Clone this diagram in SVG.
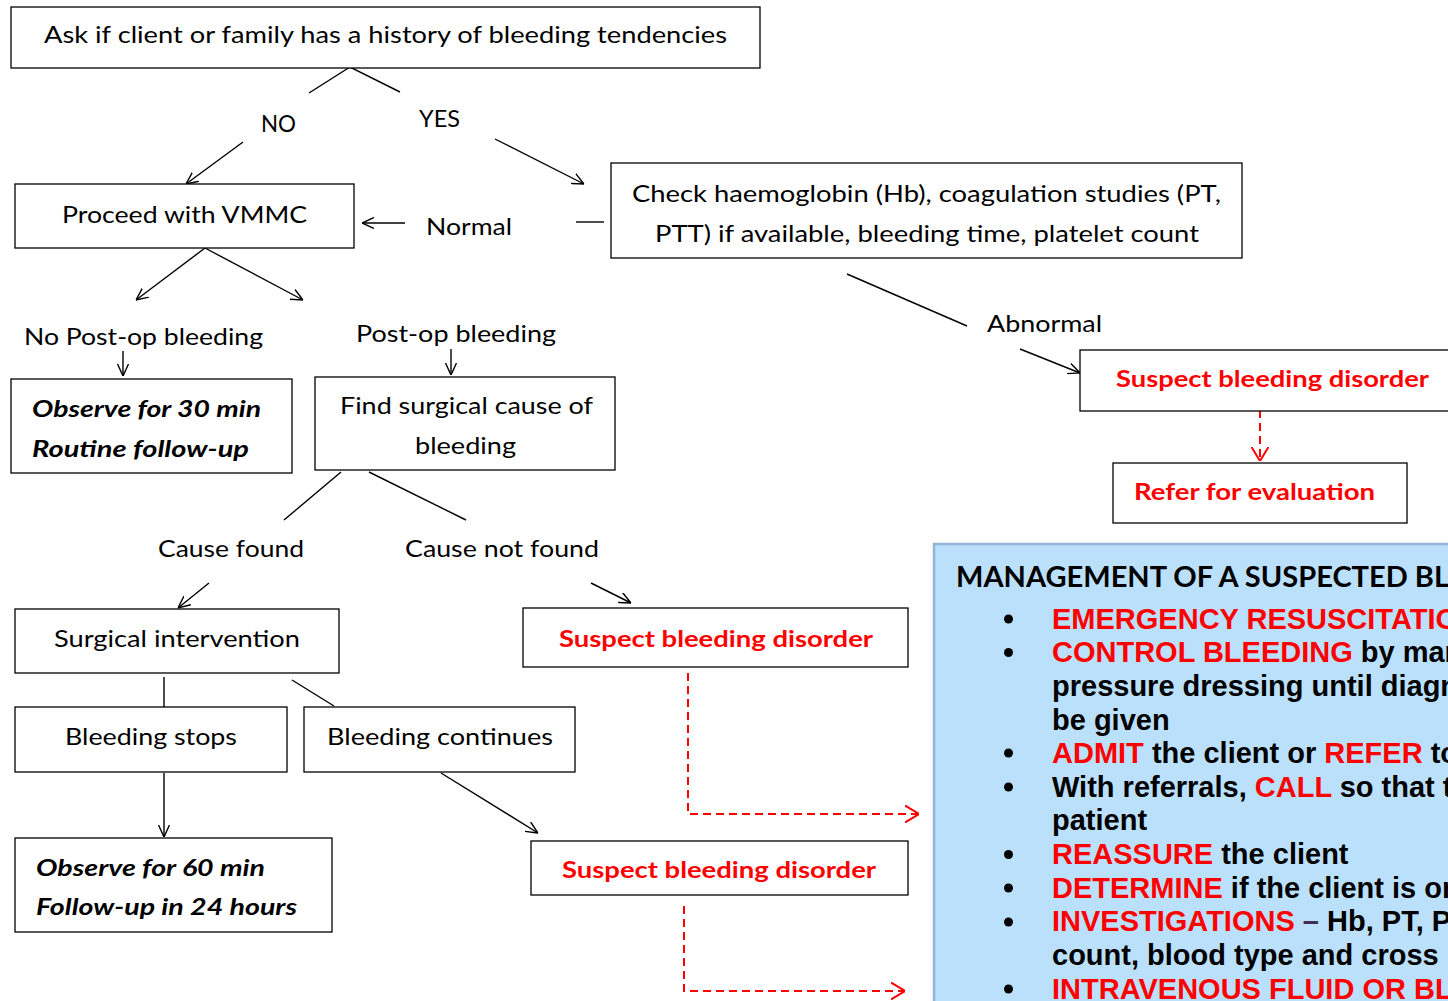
<svg xmlns="http://www.w3.org/2000/svg" width="1448" height="1001" viewBox="0 0 1448 1001">
<style>
.box{fill:#fff;stroke:#000;stroke-width:1.3}
.t{font-family:Lato,"Open Sans","Liberation Sans",sans-serif;font-size:22.5px;fill:#000}
.r{font-family:Lato,"Open Sans","Liberation Sans",sans-serif;font-size:22.5px;font-weight:bold;fill:#ff0000}
.bi{font-family:Lato,"Open Sans","Liberation Sans",sans-serif;font-size:22.5px;font-weight:bold;font-style:italic;fill:#000}
.ln{fill:none;stroke:#000;stroke-width:1.4}
.rd{fill:none;stroke:#ff0000;stroke-width:2;stroke-dasharray:8 5}
.m{font-family:"Liberation Sans",Arial,sans-serif;font-size:29px;font-weight:bold;fill:#000}
.red{fill:#ff0000}
</style>
<defs>
<marker id="ah" viewBox="0 0 12 12" refX="12" refY="6" markerWidth="12" markerHeight="12" markerUnits="userSpaceOnUse" orient="auto"><path d="M0,0.5 L12,6 L0,11.5" fill="none" stroke="#000" stroke-width="1.4"/></marker>
<marker id="ahr" viewBox="0 0 14 18" refX="14" refY="9" markerWidth="14" markerHeight="18" markerUnits="userSpaceOnUse" orient="auto"><path d="M0,0.5 L14,9 L0,17.5" fill="none" stroke="#ff0000" stroke-width="2"/></marker>
</defs>
<rect width="1448" height="1001" fill="#fff"/>

<g id="connectors">
<path class="ln" d="M309,93 L350,67 L400,92"/>
<path class="ln" d="M243,142 L186,184" marker-end="url(#ah)"/>
<path class="ln" d="M495,139 L584,184" marker-end="url(#ah)"/>
<path class="ln" d="M405,223 L362,223" marker-end="url(#ah)"/>
<path class="ln" d="M576,222 L604,222"/>
<path class="ln" d="M847,274 L967,326"/>
<path class="ln" d="M1020,349 L1080,373" marker-end="url(#ah)"/>
<path class="rd" d="M1260,410 L1260,461" marker-end="url(#ahr)"/>
<path class="ln" d="M205,248 L136,300" marker-end="url(#ah)"/>
<path class="ln" d="M205,248 L303,300" marker-end="url(#ah)"/>
<path class="ln" d="M123,351 L123,376" marker-end="url(#ah)"/>
<path class="ln" d="M451,349 L451,375" marker-end="url(#ah)"/>
<path class="ln" d="M341,472 L284,520"/>
<path class="ln" d="M369,472 L466,520"/>
<path class="ln" d="M209,583 L178,608" marker-end="url(#ah)"/>
<path class="ln" d="M591,583 L631,603" marker-end="url(#ah)"/>
<path class="ln" d="M164,677 L164,707"/>
<path class="ln" d="M292,680 L334,706"/>
<path class="ln" d="M164,773 L164,837" marker-end="url(#ah)"/>
<path class="ln" d="M441,773 L538,833" marker-end="url(#ah)"/>
<path class="rd" d="M688,673 L688,814 L919,814" marker-end="url(#ahr)"/>
<path class="rd" d="M684,906 L684,991 L905,991" marker-end="url(#ahr)"/>
</g>

<g id="n-ask">
<rect class="box" x="11" y="7" width="749" height="61"/>
<text class="t" x="44" y="43" textLength="683" lengthAdjust="spacingAndGlyphs">Ask if client or family has a history of bleeding tendencies</text>
</g>
<g id="l-no"><text class="t" x="261" y="132" textLength="35" lengthAdjust="spacingAndGlyphs">NO</text></g>
<g id="l-yes"><text class="t" x="419" y="127" textLength="41" lengthAdjust="spacingAndGlyphs">YES</text></g>
<g id="n-proceed">
<rect class="box" x="15" y="184" width="339" height="64"/>
<text class="t" x="62" y="223" textLength="245" lengthAdjust="spacingAndGlyphs">Proceed with VMMC</text>
</g>
<g id="l-normal"><text class="t" x="426" y="235" textLength="86" lengthAdjust="spacingAndGlyphs">Normal</text></g>
<g id="n-check">
<rect class="box" x="611" y="163" width="631" height="95"/>
<text class="t" x="632" y="202" textLength="589" lengthAdjust="spacingAndGlyphs">Check haemoglobin (Hb), coagulation studies (PT,</text>
<text class="t" x="655" y="242" textLength="544" lengthAdjust="spacingAndGlyphs">PTT) if available, bleeding time, platelet count</text>
</g>
<g id="l-abnormal"><text class="t" x="987" y="332" textLength="115" lengthAdjust="spacingAndGlyphs">Abnormal</text></g>
<g id="n-suspect1">
<rect class="box" x="1080" y="350" width="380" height="61"/>
<text class="r" x="1116" y="387" textLength="313" lengthAdjust="spacingAndGlyphs">Suspect bleeding disorder</text>
</g>
<g id="n-refer">
<rect class="box" x="1113" y="463" width="294" height="60"/>
<text class="r" x="1134" y="500" textLength="241" lengthAdjust="spacingAndGlyphs">Refer for evaluation</text>
</g>
<g id="l-nopostop"><text class="t" x="24" y="345" textLength="239" lengthAdjust="spacingAndGlyphs">No Post-op bleeding</text></g>
<g id="l-postop"><text class="t" x="356" y="342" textLength="200" lengthAdjust="spacingAndGlyphs">Post-op bleeding</text></g>
<g id="n-observe30">
<rect class="box" x="11" y="379" width="281" height="94"/>
<text class="bi" x="32" y="417" textLength="229" lengthAdjust="spacingAndGlyphs">Observe for 30 min</text>
<text class="bi" x="32" y="457" textLength="217" lengthAdjust="spacingAndGlyphs">Routine follow-up</text>
</g>
<g id="n-find">
<rect class="box" x="315" y="377" width="300" height="93"/>
<text class="t" x="340" y="414" textLength="253" lengthAdjust="spacingAndGlyphs">Find surgical cause of</text>
<text class="t" x="415" y="454" textLength="101" lengthAdjust="spacingAndGlyphs">bleeding</text>
</g>
<g id="l-causefound"><text class="t" x="158" y="557" textLength="146" lengthAdjust="spacingAndGlyphs">Cause found</text></g>
<g id="l-causenotfound"><text class="t" x="405" y="557" textLength="194" lengthAdjust="spacingAndGlyphs">Cause not found</text></g>
<g id="n-surgical">
<rect class="box" x="15" y="609" width="324" height="64"/>
<text class="t" x="54" y="647" textLength="246" lengthAdjust="spacingAndGlyphs">Surgical intervention</text>
</g>
<g id="n-suspect2">
<rect class="box" x="523" y="608" width="385" height="59"/>
<text class="r" x="559" y="647" textLength="314" lengthAdjust="spacingAndGlyphs">Suspect bleeding disorder</text>
</g>
<g id="n-stops">
<rect class="box" x="15" y="707" width="272" height="65"/>
<text class="t" x="65" y="745" textLength="172" lengthAdjust="spacingAndGlyphs">Bleeding stops</text>
</g>
<g id="n-continues">
<rect class="box" x="304" y="707" width="271" height="65"/>
<text class="t" x="327" y="745" textLength="226" lengthAdjust="spacingAndGlyphs">Bleeding continues</text>
</g>
<g id="n-observe60">
<rect class="box" x="15" y="838" width="317" height="94"/>
<text class="bi" x="36" y="876" textLength="229" lengthAdjust="spacingAndGlyphs">Observe for 60 min</text>
<text class="bi" x="36" y="915" textLength="261" lengthAdjust="spacingAndGlyphs">Follow-up in 24 hours</text>
</g>
<g id="n-suspect3">
<rect class="box" x="531" y="841" width="377" height="54"/>
<text class="r" x="562" y="878" textLength="314" lengthAdjust="spacingAndGlyphs">Suspect bleeding disorder</text>
</g>

<g id="n-management">
<rect x="934" y="544" width="530" height="470" fill="#bbe0fb" stroke="#95b3d7" stroke-width="2.5"/>
<text x="956" y="587" font-family="Lato,'Open Sans','Liberation Sans',sans-serif" font-size="28" font-weight="bold" fill="#000" textLength="493" lengthAdjust="spacingAndGlyphs">MANAGEMENT OF A SUSPECTED BL</text>
<g fill="#000">
<circle cx="1008.5" cy="619" r="4.5"/>
<circle cx="1008.5" cy="652.5" r="4.5"/>
<circle cx="1008.5" cy="753" r="4.5"/>
<circle cx="1008.5" cy="787" r="4.5"/>
<circle cx="1008.5" cy="854.5" r="4.5"/>
<circle cx="1008.5" cy="888" r="4.5"/>
<circle cx="1008.5" cy="922" r="4.5"/>
<circle cx="1008.5" cy="989" r="4.5"/>
</g>
<text class="m" x="1052" y="629"><tspan class="red">EMERGENCY RESUSCITATIO</tspan></text>
<text class="m" x="1052" y="662"><tspan class="red">CONTROL BLEEDING</tspan> by mar</text>
<text class="m" x="1052" y="696">pressure dressing until diagn</text>
<text class="m" x="1052" y="730">be given</text>
<text class="m" x="1052" y="763"><tspan class="red">ADMIT</tspan> the client or <tspan class="red">REFER</tspan> to</text>
<text class="m" x="1052" y="797">With referrals, <tspan class="red">CALL</tspan> so that t</text>
<text class="m" x="1052" y="830">patient</text>
<text class="m" x="1052" y="864"><tspan class="red">REASSURE</tspan> the client</text>
<text class="m" x="1052" y="898"><tspan class="red">DETERMINE</tspan> if the client is on</text>
<text class="m" x="1052" y="931"><tspan class="red">INVESTIGATIONS</tspan> <tspan fill="#403152">–</tspan> Hb, PT, P</text>
<text class="m" x="1052" y="965">count, blood type and cross</text>
<text class="m" x="1052" y="999"><tspan class="red">INTRAVENOUS FLUID OR BL</tspan></text>
</g>
</svg>
